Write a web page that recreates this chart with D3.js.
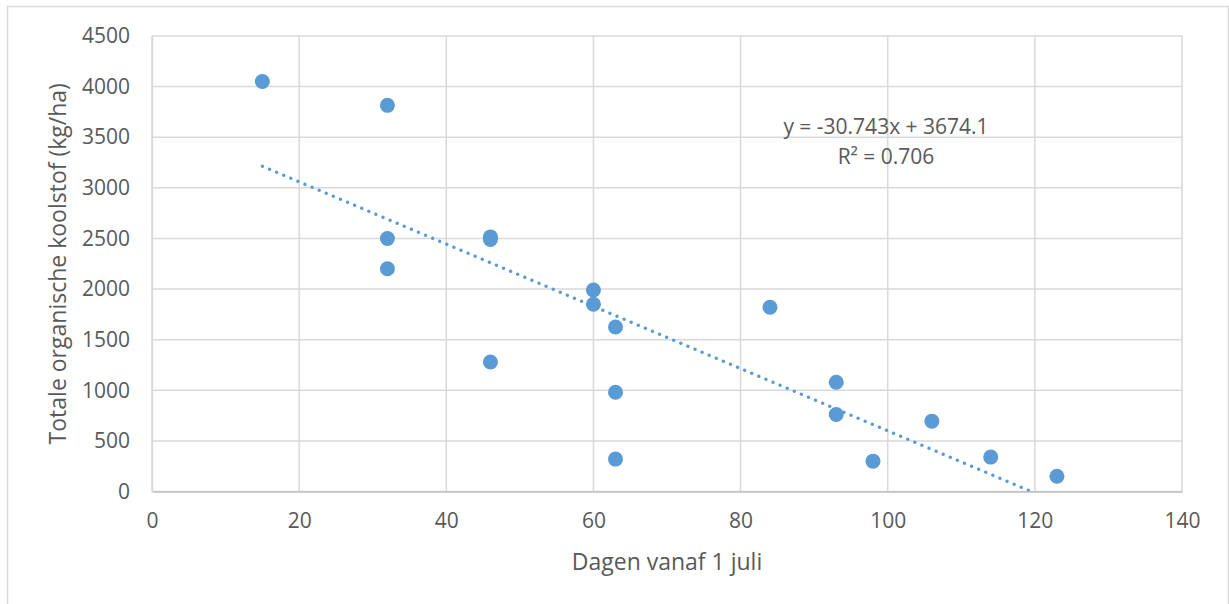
<!DOCTYPE html>
<html>
<head>
<meta charset="utf-8">
<script src="https://cdn.jsdelivr.net/npm/d3@7"></script>
<style>
  body { margin: 0; background: #fff; }
  text { font-family: "Open Sans", sans-serif; fill: #595959; }
</style>
</head>
<body>
<div id="chart"></div>
<script>
// days since 1 July
var days = [15, 32, 32, 32, 46, 46, 46, 60, 60, 63, 63, 63, 84, 93, 93, 98, 106, 114, 123];
// total organic carbon (kg/ha)
var carbon = [4050, 3815, 2500, 2200, 2515, 2490, 1280, 1990, 1850, 1625, 980, 320, 1820, 1080, 760, 300, 695, 340, 150];
var xTicks = [0, 20, 40, 60, 80, 100, 120, 140];
var yTicks = [0, 500, 1000, 1500, 2000, 2500, 3000, 3500, 4000, 4500];
var slope = -30.743, intercept = 3674.1;
var eqLines = ["y = -30.743x + 3674.1", "R\u00b2 = 0.706"];

var w = 1229, h = 604;
var pLeft = 152, pRight = 1182, pTop = 36, pBottom = 491.5;

var svg = d3.select("#chart").append("svg")
  .attr("width", w)
  .attr("height", h);

// chart border
svg.append("rect")
  .attr("x", 7.5).attr("y", 6.5)
  .attr("width", 1221).attr("height", 620)
  .attr("fill", "none")
  .attr("stroke", "#d9d9d9")
  .attr("stroke-width", 1.5);

var x = d3.scaleLinear().domain([0, 140]).range([pLeft, pRight]);
var y = d3.scaleLinear().domain([0, 4500]).range([pBottom, pTop]);

// gridlines
svg.append("g")
  .selectAll("line")
  .data(xTicks)
  .enter().append("line")
  .attr("x1", function(d) { return x(d); })
  .attr("x2", function(d) { return x(d); })
  .attr("y1", pTop).attr("y2", pBottom)
  .attr("stroke", "#d9d9d9")
  .attr("stroke-width", 1.5);

svg.append("g")
  .selectAll("line")
  .data(yTicks)
  .enter().append("line")
  .attr("x1", pLeft).attr("x2", pRight)
  .attr("y1", function(d) { return y(d); })
  .attr("y2", function(d) { return y(d); })
  .attr("stroke", "#d9d9d9")
  .attr("stroke-width", 1.5);

// axes
var xAxis = svg.append("g")
  .attr("transform", "translate(0," + pBottom + ")")
  .call(d3.axisBottom(x).tickValues(xTicks).tickFormat(d3.format("d")).tickSize(0).tickPadding(22));
xAxis.select(".domain").attr("stroke", "#bfbfbf").attr("stroke-width", 1.5);

var yAxis = svg.append("g")
  .attr("transform", "translate(" + pLeft + ",0)")
  .call(d3.axisLeft(y).tickValues(yTicks).tickFormat(d3.format("d")).tickSize(0).tickPadding(22));
yAxis.select(".domain").attr("stroke", "#d9d9d9").attr("stroke-width", 1.5);

svg.selectAll(".tick text")
  .style("font-family", "'Open Sans', sans-serif")
  .style("font-size", "21px")
  .attr("fill", "#595959");

// trend line, clipped to plot area
svg.append("clipPath").attr("id", "plotClip")
  .append("rect")
  .attr("x", pLeft).attr("y", pTop)
  .attr("width", pRight - pLeft).attr("height", pBottom - pTop);

var xr = d3.extent(days);
var trend = xr.map(function(d) { return {x: d, y: slope * d + intercept}; });
var line = d3.line()
  .x(function(d) { return x(d.x); })
  .y(function(d) { return y(d.y); });

svg.append("path")
  .datum(trend)
  .attr("d", line)
  .attr("clip-path", "url(#plotClip)")
  .attr("fill", "none")
  .attr("stroke", "#5b9bd5")
  .attr("stroke-width", 3.3)
  .attr("stroke-linecap", "round")
  .attr("stroke-dasharray", "0.1 7.6");

// points
svg.append("g")
  .selectAll("circle")
  .data(days)
  .enter().append("circle")
  .attr("cx", function(d) { return x(d); })
  .attr("cy", function(d, i) { return y(carbon[i]); })
  .attr("r", 7.5)
  .attr("fill", "#5b9bd5");

// equation
svg.append("text")
  .attr("text-anchor", "middle")
  .style("font-size", "21px")
  .selectAll("tspan")
  .data(eqLines)
  .enter().append("tspan")
  .attr("x", 886)
  .attr("y", function(d, i) { return 134 + i * 30; })
  .text(function(d) { return d; });

// axis titles
svg.append("text")
  .attr("x", (pLeft + pRight) / 2)
  .attr("y", 570)
  .attr("text-anchor", "middle")
  .style("font-size", "23px")
  .text("Dagen vanaf 1 juli");

svg.append("text")
  .attr("transform", "translate(66," + (pTop + pBottom) / 2 + ") rotate(-90)")
  .attr("text-anchor", "middle")
  .style("font-size", "23px")
  .text("Totale organische koolstof (kg/ha)");
</script>
</body>
</html>
